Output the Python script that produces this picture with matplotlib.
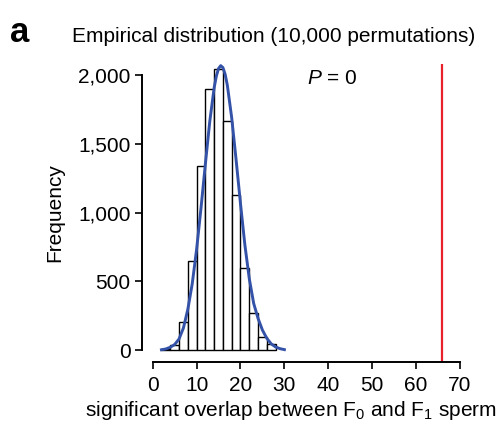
import numpy as np
import matplotlib
matplotlib.use("Agg")
import matplotlib.pyplot as plt

plt.rcParams['font.family'] = ['Liberation Sans', 'DejaVu Sans']
plt.rcParams['mathtext.fontset'] = 'custom'
plt.rcParams['mathtext.rm'] = 'Liberation Sans'
plt.rcParams['mathtext.it'] = 'Liberation Sans:italic'

# histogram of permutations (bin width 2)
bin_edges = [2, 4, 6, 8, 10, 12, 14, 16, 18, 20, 22, 24, 26, 28]
counts = [7, 36, 201, 645, 1335, 1898, 2043, 1662, 1128, 600, 268, 92, 42]

# fitted curve
curve_x = [2, 3, 4, 5, 6, 7, 8, 9, 10, 11, 12, 13, 14, 14.5, 15, 15.5,
           16, 16.5, 17, 18, 19, 20, 21, 22, 23, 24, 25, 26, 27, 28, 29, 30]
curve_y = [2, 8, 20, 40, 80, 160, 295, 480, 730, 1030, 1352, 1661, 1907, 1992, 2047, 2068,
           2054, 2006, 1927, 1689, 1384, 1065, 765, 520, 340, 230, 145, 85, 45, 22, 10, 3]

observed = 66
xticks = [0, 10, 20, 30, 40, 50, 60, 70]
yticks = [0, 500, 1000, 1500, 2000]
ytick_labels = ['0', '500', '1,000', '1,500', '2,000']

fs = 15

fig = plt.figure(figsize=(5.03, 4.30), dpi=100)
ax = fig.add_axes([141.7 / 503, 1 - 362 / 430, (460 - 141.7) / 503, (362 - 64) / 430])

widths = np.diff(bin_edges)
ax.bar(bin_edges[:-1], counts, width=widths, align='edge',
       facecolor='white', edgecolor='black', linewidth=1.0)
ax.plot(curve_x, curve_y, color='#3352a8', linewidth=2.1)
ax.axvline(observed, color='#e8202a', linewidth=1.6)

ax.set_xlim(-2.5, 70)
ax.set_ylim(-87, 2080)

for s in ['top', 'right']:
    ax.spines[s].set_visible(False)
ax.spines['left'].set_bounds(0, 2000)
ax.spines['bottom'].set_bounds(0, 70)
ax.spines['left'].set_linewidth(1.4)
ax.spines['bottom'].set_linewidth(1.4)

ax.set_xticks(xticks)
ax.set_yticks(yticks)
ax.set_yticklabels(ytick_labels)
ax.tick_params(direction='out', length=5, width=1.2, labelsize=fs, pad=3)
ax.tick_params(axis='x', pad=5)

ax.text(35.2, 1971, '$P$ = 0', fontsize=fs, ha='left', va='center')

ax.set_xlabel('significant overlap between F$_0$ and F$_1$ sperm', fontsize=fs)
ax.xaxis.set_label_coords(0.469, -0.164)
ax.xaxis.label.set_va('center')
ax.set_ylabel('Frequency', fontsize=fs)
ax.yaxis.set_label_coords(-0.272, 0.5)
ax.yaxis.label.set_va('center')

fig.text(274 / 503, 1 - 37 / 430, 'Empirical distribution (10,000 permutations)',
         fontsize=fs, ha='center', va='center')
fig.text(10 / 503, 1 - 32 / 430, 'a', fontsize=25, fontweight='bold', ha='left', va='center')

fig.savefig('out.png', dpi=100)
